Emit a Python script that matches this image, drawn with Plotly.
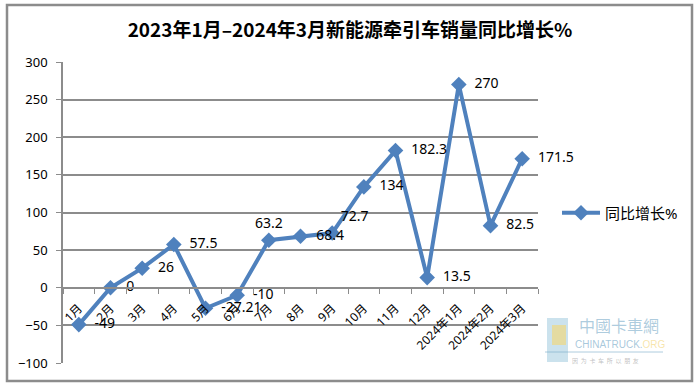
import plotly.graph_objects as go

categories = ["1月", "2月", "3月", "4月", "5月", "6月", "7月", "8月", "9月", "10月",
              "11月", "12月", "2024年1月", "2024年2月", "2024年3月"]
growth = [-49, 0, 26, 57.5, -27.21, -10, 63.2, 68.4, 72.7, 134, 182.3, 13.5, 270, 82.5, 171.5]
label_text = ["-49", "0", "26", "57.5", "-27.21", "-10", "63.2", "68.4", "72.7", "134",
              "182.3", "13.5", "270", "82.5", "171.5"]
label_pos = ["middle right"] * 15
label_pos[6] = "top center"
label_pos[8] = "top right"

title_text = "2023年1月–2024年3月新能源牵引车销量同比增长%"
series_name = "同比增长%"

blue = "#4F81BD"
grey = "#8C8C8C"
font_family = "Noto Sans, Noto Sans CJK SC, sans-serif"

pad = "\u00a0\u00a0"
shown_text = [(pad + t) if p == "middle right" else t for t, p in zip(label_text, label_pos)]

fig = go.Figure()
fig.add_trace(go.Scatter(
    x=categories, y=growth, name=series_name,
    mode="lines+markers+text",
    line=dict(color=blue, width=4),
    marker=dict(symbol="diamond", size=12, color=blue),
    text=shown_text, textposition=label_pos,
    textfont=dict(size=14, color="#000000", family=font_family),
    cliponaxis=False,
))

# Plot area: x 63..538 px, y 62..363 px
L, R, T, B = 63, 162, 62, 24
W, H = 700, 387
pw, ph = W - L - R, H - T - B

def px(x):
    return (x - L) / pw

def py(y):
    return (H - B - y) / ph

fig.add_shape(type="rect", xref="paper", yref="paper",
              x0=px(7), x1=px(692), y0=py(381), y1=py(5),
              line=dict(color=grey, width=2.5), fillcolor="rgba(0,0,0,0)", layer="below")

# watermark
fig.add_shape(type="rect", xref="paper", yref="paper",
              x0=px(547), x1=px(568), y0=py(362), y1=py(318),
              line=dict(width=0), fillcolor="rgba(140,190,215,0.45)", layer="below")
fig.add_shape(type="rect", xref="paper", yref="paper",
              x0=px(552), x1=px(566), y0=py(345), y1=py(325),
              line=dict(width=0), fillcolor="rgba(245,215,110,0.6)", layer="below")
fig.add_annotation(xref="paper", yref="paper", x=px(619), y=py(325), text="中國卡車網",
                   xanchor="center", yanchor="middle",
                   showarrow=False, font=dict(size=16, color="rgba(120,170,200,0.6)",
                                              family="Noto Sans CJK TC"))
fig.add_annotation(xref="paper", yref="paper", x=px(620), y=py(344),
                   xanchor="center", yanchor="middle",
                   text="CHINATRUCK.<span style='color:rgba(240,200,80,0.75)'>ORG</span>",
                   showarrow=False, font=dict(size=10, color="rgba(120,170,200,0.65)",
                                              family="Liberation Sans"))
fig.add_shape(type="line", xref="paper", yref="paper",
              x0=px(545), x1=px(663), y0=py(352), y1=py(352),
              line=dict(color="rgba(120,170,200,0.6)", width=1))
fig.add_annotation(xref="paper", yref="paper", x=px(605), y=py(360),
                   xanchor="center", yanchor="middle",
                   text="因  为  卡  车  所  以  朋  友",
                   showarrow=False, font=dict(size=6, color="rgba(150,150,150,0.6)",
                                              family="Noto Sans CJK SC"))

fig.update_layout(
    width=W, height=H,
    margin=dict(l=L, r=R, t=T, b=B, autoexpand=False),
    paper_bgcolor="white", plot_bgcolor="white",
    title=dict(text="<b>" + title_text + "</b>", x=0.5, xanchor="center",
               y=1 - 30 / H, yanchor="middle",
               font=dict(size=19, color="#000000", family="Noto Sans CJK SC")),
    showlegend=True,
    legend=dict(x=1.04, y=py(213), xanchor="left", yanchor="middle", itemwidth=38,
                font=dict(size=15, color="#000000", family=font_family),
                bgcolor="rgba(0,0,0,0)"),
    xaxis=dict(
        type="category", range=[-0.5, 14.5],
        anchor="free", position=0.25, automargin=False,
        showline=True, linecolor=grey, linewidth=1.5,
        ticks="outside", tickson="boundaries", ticklen=5, tickcolor=grey,
        tickangle=-45, showgrid=False, zeroline=False, ticklabelstandoff=8,
        tickfont=dict(size=12, color="#000000", family=font_family),
    ),
    yaxis=dict(
        range=[-100, 300], dtick=50, automargin=False,
        showgrid=True, gridcolor=grey, gridwidth=1.5,
        showline=True, linecolor=grey, linewidth=1.5,
        ticks="outside", ticklen=5, tickcolor=grey,
        zeroline=False, ticklabelstandoff=6,
        tickfont=dict(size=13, color="#000000", family=font_family),
    ),
)

fig.write_html("out.html", config={"displayModeBar": False},
               post_script="document.body.style.margin='0px';document.body.style.overflow='hidden';")
